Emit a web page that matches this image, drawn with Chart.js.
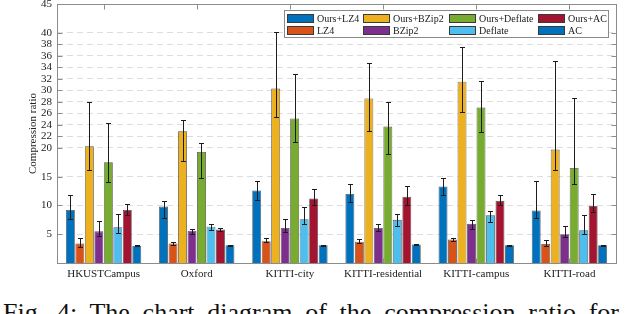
<!DOCTYPE html>
<html>
<head>
<meta charset="utf-8">
<script src="https://cdn.jsdelivr.net/npm/chart.js@4.4.0/dist/chart.umd.min.js"></script>
<style>
  html, body { margin: 0; padding: 0; background: #fff; width: 640px; height: 314px; overflow: hidden; }
  #wrap { position: absolute; left: 0; top: 0; width: 640px; height: 285px; }
  #caption {
    position: absolute; left: 3px; top: 300px; width: 616px;
    font: 26px "Liberation Serif", serif; line-height: 26px; color: #111;
    text-align: justify; text-align-last: justify;
  }
</style>
</head>
<body>
<div id="wrap"><canvas id="chart"></canvas></div>
<div id="caption">Fig. 4: The chart diagram of the compression ratio for</div>
<script>
const categories = ["HKUSTCampus", "Oxford", "KITTI-city", "KITTI-residential", "KITTI-campus", "KITTI-road"];
const seriesNames = ["Ours+LZ4", "LZ4", "Ours+BZip2", "BZip2", "Ours+Deflate", "Deflate", "Ours+AC", "AC"];
const seriesColors = ["#0072BD", "#D95319", "#EDB120", "#7E2F8E", "#77AC30", "#4DBEEE", "#A2142F", "#0072BD"];
const yTickValues = [5, 10, 15, 20, 22, 24, 26, 28, 30, 32, 34, 36, 38, 40, 45];

// mean compression ratio per dataset
const oursLz4 = [9.2, 9.8, 12.6, 12.0, 13.3, 9.1];
const lz4 = [3.4, 3.4, 3.8, 3.7, 4.1, 3.3];
const oursBzip2 = [20.3, 22.9, 30.3, 28.6, 31.5, 19.7];
const bzip2 = [5.5, 5.6, 6.1, 6.1, 6.8, 5.0];
const oursDeflate = [17.5, 19.3, 25.1, 23.7, 27.0, 16.5];
const deflate = [6.2, 6.3, 7.6, 7.5, 8.3, 5.7];
const oursAc = [9.2, 5.8, 11.2, 11.5, 10.8, 9.9];
const ac = [3.0, 3.1, 3.1, 3.2, 3.1, 3.1];

// error bar extents [low, high]
const oursLz4Err = [[7.7, 11.8], [7.9, 10.7], [10.9, 14.3], [10.6, 13.7], [11.9, 14.8], [7.9, 14.3]];
const lz4Err = [[2.7, 4.4], [3.2, 3.6], [3.6, 4.4], [3.4, 4.1], [3.8, 4.4], [3.0, 4.0]];
const oursBzip2Err = [[16.1, 27.9], [17.7, 24.8], [25.3, 40.1], [23.0, 34.7], [26.2, 37.6], [16.1, 35.1]];
const bzip2Err = [[4.7, 7.3], [5.0, 5.9], [5.4, 7.7], [5.5, 6.8], [5.9, 7.5], [4.5, 6.5]];
const oursDeflateErr = [[14.0, 24.4], [14.7, 20.8], [21.1, 32.8], [19.0, 27.9], [22.8, 31.7], [13.7, 28.7]];
const deflateErr = [[5.2, 8.5], [5.8, 6.7], [6.7, 9.7], [6.4, 8.5], [7.1, 9.1], [5.0, 8.4]];
const oursAcErr = [[8.4, 10.3], [5.6, 6.1], [10.1, 12.9], [10.1, 13.3], [10.1, 11.9], [8.8, 12.0]];
const acErr = [[2.9, 3.1], [3.0, 3.2], [3.0, 3.2], [3.1, 3.3], [3.0, 3.2], [3.0, 3.2]];

const seriesValues = [oursLz4, lz4, oursBzip2, bzip2, oursDeflate, deflate, oursAc, ac];
const seriesErrors = [oursLz4Err, lz4Err, oursBzip2Err, bzip2Err, oursDeflateErr, deflateErr, oursAcErr, acErr];

const serif = '"Liberation Serif", "Times New Roman", serif';

const errorBars = {
  id: "errorBars",
  afterDatasetsDraw(chart) {
    const ctx = chart.ctx;
    const y = chart.scales.y;
    ctx.save();
    ctx.strokeStyle = "#1c1c1c";
    ctx.lineWidth = 1;
    chart.data.datasets.forEach((ds, i) => {
      chart.getDatasetMeta(i).data.forEach((bar, j) => {
        const [lo, hi] = ds.errorBars[j];
        const x = Math.round(bar.x) + 0.5;
        const yl = Math.round(y.getPixelForValue(lo)) + 0.5;
        const yh = Math.round(y.getPixelForValue(hi)) + 0.5;
        ctx.beginPath();
        ctx.moveTo(x, yl); ctx.lineTo(x, yh);
        ctx.moveTo(x - 2.5, yl); ctx.lineTo(x + 2.5, yl);
        ctx.moveTo(x - 2.5, yh); ctx.lineTo(x + 2.5, yh);
        ctx.stroke();
      });
    });
    ctx.restore();
  }
};

// box frame with inward ticks, then the 4x2 legend
const frameAndLegend = {
  id: "frameAndLegend",
  afterDraw(chart) {
    const ctx = chart.ctx;
    const { left, right, top, bottom } = chart.chartArea;
    const L = Math.round(left) + 0.5, R = Math.round(right) + 0.5;
    const T = Math.round(top) + 0.5, B = Math.round(bottom) + 0.5;
    ctx.save();
    ctx.strokeStyle = "#8c8c8c";
    ctx.lineWidth = 1;
    ctx.strokeRect(L, T, R - L, B - T);
    ctx.beginPath();
    chart.scales.y.ticks.forEach((t) => {
      const py = Math.round(chart.scales.y.getPixelForValue(t.value)) + 0.5;
      ctx.moveTo(L, py); ctx.lineTo(L + 5, py);
      ctx.moveTo(R, py); ctx.lineTo(R - 5, py);
    });
    categories.forEach((c, i) => {
      const px = Math.round(chart.scales.x.getPixelForValue(i)) + 0.5;
      ctx.moveTo(px, T); ctx.lineTo(px, T + 5);
      ctx.moveTo(px, B); ctx.lineTo(px, B - 5);
    });
    ctx.stroke();

    const boxL = 284.5, boxT = 10.5, boxW = 324, boxH = 27;
    ctx.fillStyle = "#fff";
    ctx.fillRect(boxL, boxT, boxW, boxH);
    ctx.strokeStyle = "#8a8a8a";
    ctx.strokeRect(boxL, boxT, boxW, boxH);
    const colX = [287, 363, 449, 538];
    const rowY = [14, 26];
    ctx.font = "10px " + serif;
    ctx.textBaseline = "middle";
    chart.data.datasets.forEach((ds, i) => {
      const sx = colX[Math.floor(i / 2)];
      const sy = rowY[i % 2];
      ctx.fillStyle = ds.backgroundColor;
      ctx.fillRect(sx, sy, 27, 9);
      ctx.strokeStyle = "#3a3a3a";
      ctx.strokeRect(sx + 0.5, sy + 0.5, 26, 8);
      ctx.fillStyle = "#1a1a1a";
      ctx.fillText(ds.label, sx + 30, sy + 5);
    });
    ctx.restore();
  }
};

new Chart(document.getElementById("chart"), {
  type: "bar",
  data: {
    labels: categories,
    datasets: seriesNames.map((name, i) => ({
      label: name,
      data: seriesValues[i],
      errorBars: seriesErrors[i],
      backgroundColor: seriesColors[i],
      borderColor: "rgba(50,50,50,0.85)",
      borderWidth: 0.8,
      categoryPercentage: 0.815,
      barPercentage: 0.94
    }))
  },
  options: {
    responsive: true,
    maintainAspectRatio: false,
    animation: false,
    layout: { padding: { top: 4, right: 24, left: 0, bottom: 0 } },
    plugins: {
      legend: { display: false },
      tooltip: { enabled: false }
    },
    scales: {
      x: {
        grid: { display: false, drawTicks: false },
        border: { display: false },
        ticks: { color: "#222", font: { family: serif, size: 11 }, padding: 5, maxRotation: 0 },
        afterFit: (scale) => { scale.height = 22; scale.paddingLeft = 0; scale.paddingRight = 0; }
      },
      y: {
        min: 0,
        max: 45,
        afterBuildTicks: (scale) => { scale.ticks = yTickValues.map((v) => ({ value: v })); },
        grid: { color: "#dedede", lineWidth: 1, drawTicks: false },
        border: { display: false, dash: [6, 4] },
        ticks: { color: "#222", font: { family: serif, size: 11 }, padding: 5 },
        title: {
          display: true,
          text: "Compression ratio",
          color: "#222",
          font: { family: serif, size: 11 },
          padding: { top: 27, bottom: 0 }
        },
        afterFit: (scale) => { scale.width = 57; scale.paddingTop = 0; scale.paddingBottom = 0; }
      }
    }
  },
  plugins: [errorBars, frameAndLegend]
});
</script>
</body>
</html>
